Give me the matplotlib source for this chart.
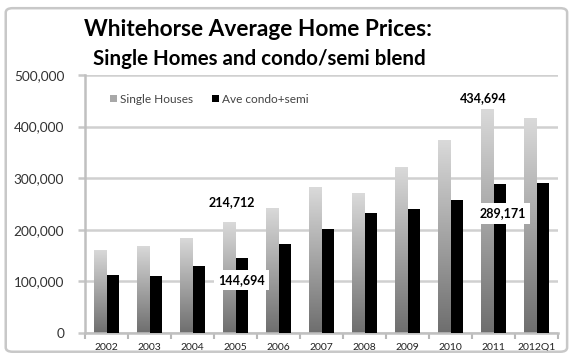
import numpy as np
from matplotlib import pyplot as plt
from matplotlib.colors import LinearSegmentedColormap
from matplotlib.patches import FancyBboxPatch, Patch
from matplotlib.ticker import FuncFormatter, FixedLocator

plt.rcParams['font.family'] = ['Lato', 'DejaVu Sans']

periods = ['2002', '2003', '2004', '2005', '2006', '2007', '2008', '2009', '2010', '2011', '2012Q1']
single_houses = [161000, 169000, 185000, 214712, 243000, 282000, 271000, 322000, 375000, 434694, 416000]
condo_semi = [113000, 110000, 129000, 144694, 172000, 202000, 233000, 240000, 258000, 289171, 290000]

fig = plt.figure(figsize=(5.74, 3.56), dpi=100)
ax = fig.add_axes([85 / 574, 1 - 333 / 356, 473 / 574, 258 / 356])

# outer chart frame
frame = FancyBboxPatch((0.01, 0.012), 0.978, 0.965, boxstyle='round,pad=0,rounding_size=0.012',
                       transform=fig.transFigure, fill=False, edgecolor='#c8c8c8', linewidth=1.8)
fig.patches.append(frame)

fig.text(84 / 574, 1 - 29 / 356, 'Whitehorse Average Home Prices:', fontsize=16.3,
         fontweight='bold', va='center', ha='left')
fig.text(93 / 574, 1 - 59 / 356, 'Single Homes and condo/semi blend', fontsize=14.8,
         fontweight='bold', va='center', ha='left')

x = np.arange(len(periods))
w = 0.29
grey_cmap = LinearSegmentedColormap.from_list('bar_grad', ['#6e6e6e', '#dadada'])
grad = np.linspace(0, 1, 256).reshape(-1, 1)

bars = ax.bar(x - w / 2, single_houses, w, color='none', edgecolor='none', zorder=2)
for b in bars:
    x0 = b.get_x()
    h = b.get_height()
    im = ax.imshow(grad, extent=[x0, x0 + w, 0, h], origin='lower', aspect='auto',
                   cmap=grey_cmap, zorder=2, interpolation='bilinear')
    im.set_clip_path(b)

ax.bar(x + w / 2, condo_semi, w, color='black', zorder=3)

ax.set_xlim(-0.5, len(periods) - 0.5)
ax.set_ylim(0, 500000)
ax.set_xticks(x)
ax.set_xticklabels(periods, fontsize=7.5, color='#222222')
ax.xaxis.set_minor_locator(FixedLocator(np.arange(-0.5, len(periods), 1)))
ax.tick_params(axis='x', which='major', length=0, pad=7)
ax.tick_params(axis='x', which='minor', length=4, color='#b8b8b8', width=1.5)
ax.set_yticks(range(0, 500001, 100000))
ax.yaxis.set_major_formatter(FuncFormatter(lambda v, p: f'{int(v):,}'))
ax.tick_params(axis='y', length=5, width=1.8, color='#c8c8c8', labelsize=9.8, pad=10,
               labelcolor='#333333')
ax.grid(axis='y', color='#d0d0d0', linewidth=1.8, zorder=0)
ax.set_axisbelow(True)
for side in ['top', 'right']:
    ax.spines[side].set_visible(False)
ax.spines['left'].set_color('#c0c0c0')
ax.spines['left'].set_linewidth(1.8)
ax.spines['bottom'].set_color('#c0c0c0')
ax.spines['bottom'].set_linewidth(1.8)

handles = [Patch(facecolor='#a8a8a8', label='Single Houses'),
           Patch(facecolor='black', label='Ave condo+semi')]
ax.legend(handles=handles, loc='center left', bbox_to_anchor=(0.03, 0.906), ncol=2, frameon=False,
          fontsize=8.6, handlelength=0.55, handleheight=0.55, handletextpad=0.3, columnspacing=1.6,
          labelcolor='#444444')

# value labels
ax.text(2.92, 253000, '214,712', fontsize=9, fontweight='bold', ha='center', va='center')
ax.text(3.15, 102000, '144,694', fontsize=9, fontweight='bold', ha='center', va='center',
        bbox=dict(facecolor='white', edgecolor='none', pad=3), zorder=5)
ax.text(8.76, 455000, '434,694', fontsize=9, fontweight='bold', ha='center', va='center')
ax.text(9.21, 231500, '289,171', fontsize=9, fontweight='bold', ha='center', va='center',
        bbox=dict(facecolor='white', edgecolor='none', pad=3), zorder=5)

fig.savefig('out.png', dpi=100)
